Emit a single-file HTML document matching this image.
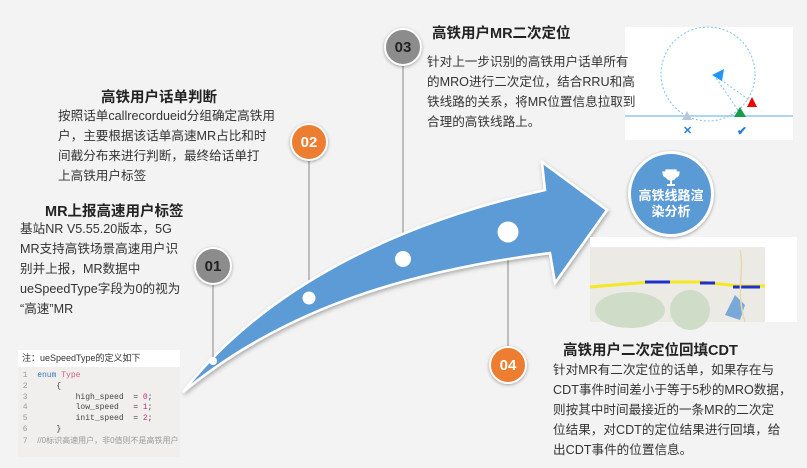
<!DOCTYPE html>
<html><head><meta charset="utf-8"><style>
html,body{margin:0;padding:0}
body{width:807px;height:468px;overflow:hidden;position:relative;background:#f3f3f3;font-family:"Liberation Sans","Noto Sans CJK SC",sans-serif;color:#333}
.t{position:absolute;font-size:12.6px;line-height:20px;white-space:nowrap}
.h{position:absolute;font-size:14.5px;font-weight:bold;color:#222;white-space:nowrap}
.c{position:absolute;border-radius:50%;color:#fff;font-weight:bold;font-size:15px;display:flex;align-items:center;justify-content:center;border:2px solid #fff;box-shadow:0 1px 3px rgba(0,0,0,.35)}
.g{background:#8c8c8c;color:#222}
.o{background:#ed7d31}
</style></head><body>
<svg width="807" height="468" style="position:absolute;left:0;top:0">
<defs><filter id="sh"><feDropShadow dx="1" dy="2" stdDeviation="2" flood-opacity=".3"/></filter></defs>
<line x1="309" y1="142" x2="309" y2="298" stroke="#888" stroke-width="1"/>
<line x1="403" y1="47" x2="403" y2="259" stroke="#888" stroke-width="1"/>
<line x1="508" y1="232" x2="508" y2="365" stroke="#888" stroke-width="1"/>
<path d="M183,392 C255,300 375,228 545,190 L542,162 L607,210 L555,283 L550,253 C400,272 280,312 183,392 Z" fill="#5b9bd5" stroke="#fff" stroke-width="2.5" filter="url(#sh)"/>
<line x1="213" y1="266" x2="213" y2="361" stroke="#888" stroke-width="1"/>
<circle cx="213" cy="361" r="4" fill="#fff"/>
<circle cx="309" cy="298" r="6.5" fill="#fff"/>
<circle cx="403" cy="259" r="8" fill="#fff"/>
<circle cx="508" cy="232" r="10.5" fill="#fff"/>
<rect x="625" y="27" width="168" height="113" fill="#fff"/>
<circle cx="708" cy="74" r="47" fill="none" stroke="#7fbfe8" stroke-dasharray="2,2"/>
<line x1="625" y1="116" x2="793" y2="116" stroke="#8fcaf0" stroke-width="1.5"/>
<line x1="714" y1="75" x2="752" y2="102" stroke="#7fbfe8" stroke-dasharray="2,2"/>
<line x1="714" y1="75" x2="740" y2="113" stroke="#7fbfe8" stroke-dasharray="2,2"/>
<polygon points="712,75 724,69 722,81" fill="#2196f3"/>
<polygon points="752,97 757,107 747,107" fill="#e00"/>
<polygon points="740,107 746,117 734,117" fill="#1a9b4a"/>
<polygon points="687,111 692,120 682,120" fill="#b8c8d8"/>
<text x="683" y="134" fill="#2a7fd0" font-size="11" font-weight="bold">✕</text>
<text x="737" y="135" fill="#2a7fd0" font-size="12" font-weight="bold">✔</text>
<rect x="590" y="237" width="207" height="85" fill="#fff"/>
<rect x="590" y="247" width="175" height="75" fill="#eceae4"/>
<ellipse cx="630" cy="310" rx="35" ry="18" fill="#cfdcc8"/>
<ellipse cx="690" cy="310" rx="20" ry="20" fill="#cfdcc8"/>
<path d="M725,315 L735,295 L745,305 L740,320 Z" fill="#7aa8d8"/>
<path d="M590,287 L650,282 L700,282 L740,286 L765,286" stroke="#f5e820" stroke-width="3" fill="none"/>
<path d="M645,282 L670,282 M700,283 L715,283 M733,287 L760,287" stroke="#2030d0" stroke-width="3" fill="none"/>
<path d="M740,250 C745,270 735,290 745,322" stroke="#e6d9b0" stroke-width="1.5" fill="none"/>
<rect x="765" y="247" width="32" height="55" fill="#fff"/>
</svg>
<div class="c g" style="left:194px;top:247px;width:34px;height:34px">01</div>
<div class="c o" style="left:290px;top:123px;width:34px;height:34px">02</div>
<div class="c g" style="left:384px;top:28px;width:34px;height:34px">03</div>
<div class="c o" style="left:489px;top:346px;width:34px;height:34px">04</div>
<div class="c" style="left:628px;top:151px;width:80px;height:80px;background:#5b9bd5;border:3px solid #fff;flex-direction:column;font-size:13px;line-height:16px;text-align:center"><svg width="20" height="20" viewBox="0 0 20 20"><path d="M5,2 H15 V7 C15,11 12,12 10,12 C8,12 5,11 5,7 Z M5,4 H2 C2,8 4,9 5,9 M15,4 H18 C18,8 16,9 15,9" fill="#fff" stroke="#fff" stroke-width="1.2"/><rect x="9" y="12" width="2" height="4" fill="#fff"/><rect x="6" y="16" width="8" height="2" fill="#fff"/></svg>高铁线路渲<br>染分析</div>
<div class="h" style="left:101px;top:86px">高铁用户话单判断</div>
<div class="t" style="left:58px;top:106px">按照话单callrecordueid分组确定高铁用<br>户，主要根据该话单高速MR占比和时<br>间截分布来进行判断，最终给话单打<br>上高铁用户标签</div>
<div class="h" style="left:45px;top:200px">MR上报高速用户标签</div>
<div class="t" style="left:20px;top:219px">基站NR V5.55.20版本，5G<br>MR支持高铁场景高速用户识<br>别并上报，MR数据中<br>ueSpeedType字段为0的视为<br>“高速”MR</div>
<div class="h" style="left:432px;top:22px">高铁用户MR二次定位</div>
<div class="t" style="left:427px;top:52px">针对上一步识别的高铁用户话单所有<br>的MRO进行二次定位，结合RRU和高<br>铁线路的关系，将MR位置信息拉取到<br>合理的高铁线路上。</div>
<div class="h" style="left:563px;top:339px">高铁用户二次定位回填CDT</div>
<div class="t" style="left:553px;top:360px">针对MR有二次定位的话单，如果存在与<br>CDT事件时间差小于等于5秒的MRO数据，<br>则按其中时间最接近的一条MR的二次定<br>位结果，对CDT的定位结果进行回填，给<br>出CDT事件的位置信息。</div>
<div style="position:absolute;left:18px;top:350px;width:162px;height:17px;background:#fff;font-size:9px;line-height:17px;padding-left:4px;box-sizing:border-box">注：ueSpeedType的定义如下</div>
<div style="position:absolute;left:18px;top:367px;width:162px;height:86px;background:#f1efed;font-family:'Liberation Mono',monospace;font-size:8px;line-height:10.8px;color:#444;white-space:pre;padding-top:4px"><span style="color:#999"> 1  </span><span style="color:#3a7ab8">enum</span> <span style="color:#d06080">Type</span>
<span style="color:#999"> 2  </span>    {
<span style="color:#999"> 3  </span>        high_speed  = <span style="color:#c03080">0</span>;
<span style="color:#999"> 4  </span>        low_speed   = <span style="color:#c03080">1</span>;
<span style="color:#999"> 5  </span>        init_speed  = <span style="color:#c03080">2</span>;
<span style="color:#999"> 6  </span>    }
<span style="color:#999"> 7  </span><span style="color:#999;font-family:'Liberation Sans','Noto Sans CJK SC',sans-serif">//0标识高速用户，非0值则不是高铁用户</span></div>
</body></html>
